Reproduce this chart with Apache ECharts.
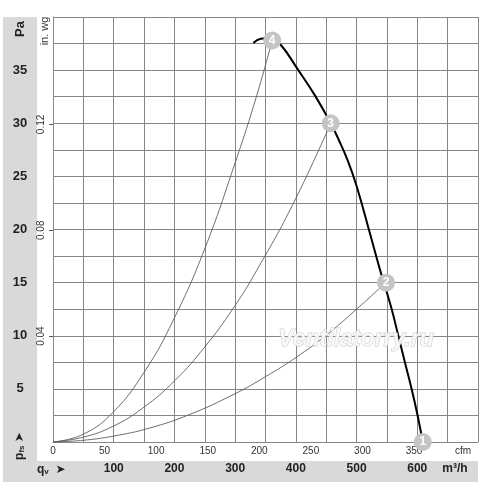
<!DOCTYPE html>
<html>
<head>
<meta charset="utf-8">
<script src="https://cdn.jsdelivr.net/npm/echarts@6/dist/echarts.min.js"></script>
<style>
html,body{margin:0;padding:0;background:#fff;}
#c{width:500px;height:483px;}
</style>
</head>
<body>
<div id="c"></div>
<script>
// Fan curve (flow in m³/h, static pressure in Pa)
const fanQ = [330, 342, 352, 361, 374, 404, 431.6, 457.4, 471, 485, 500.4, 522.2, 538.6, 544.8, 557.9, 568.8, 579.8, 590.8, 600.7, 609];
const fanP = [37.55, 37.95, 38.0, 37.8, 37.46, 35.0, 32.6, 30.0, 28.4, 26.55, 24.03, 19.6, 16.2, 15.05, 12.49, 9.98, 7.46, 4.96, 2.45, 0];
// System curves
const sys4Q = [0, 49.5, 99, 151, 198, 250, 301, 335.5, 361];
const sys4P = [0, 0.72, 2.8, 6.65, 11.45, 18.2, 26.45, 32.6, 37.8];
const sys3Q = [0, 49.5, 99, 148, 201, 250, 297, 335.5, 396, 457.5];
const sys3P = [0, 0.45, 1.48, 3.2, 5.8, 8.95, 12.6, 16.15, 22.47, 30.0];
const sys2Q = [0, 49.5, 99, 159.5, 225.5, 300, 350, 400, 450, 500, 548];
const sys2P = [0, 0.16, 0.55, 1.32, 2.6, 4.55, 6.15, 7.95, 10.05, 12.5, 15.0];
// Operating points
const ptLabels = ['1', '2', '3', '4'];
const ptQ = [609, 548.5, 457.4, 361];
const ptP = [0, 15.0, 30.0, 37.8];
// Axis tick labels
const paTicks = [5, 10, 15, 20, 25, 30, 35];
const m3hTicks = [100, 200, 300, 400, 500, 600];
const cfmTicks = [0, 50, 100, 150, 200, 250, 300, 350];
const inwgTicks = [0.04, 0.08, 0.12];

const PA_MAX = 40, Q_MAX = 700;
const CFM_PER_M3H = 1 / 1.69901;
const PA_PER_INWG = 249.089;

const zip = (a, b) => a.map((v, i) => [v, b[i]]);

const chart = echarts.init(document.getElementById('c'), null, {renderer: 'canvas'});
const gridCol = '#868686';
const thin = {color: '#5e5e5e', width: 0.9};
const option = {
  backgroundColor: '#fff',
  animation: false,
  graphic: [
    {type: 'rect', z: -10, shape: {x: 3, y: 17, width: 34, height: 465}, style: {fill: '#d9d9d9'}},
    {type: 'rect', z: -10, shape: {x: 3, y: 461, width: 475, height: 21}, style: {fill: '#d9d9d9'}},
    {type: 'text', x: 20, y: 29, rotation: Math.PI / 2,
     style: {text: 'Pa', font: 'bold 13px "Liberation Sans", Arial, sans-serif', fill: '#222', align: 'center', verticalAlign: 'middle'}},
    {type: 'text', x: 45, y: 31, rotation: Math.PI / 2,
     style: {text: 'in. wg', font: '11px "Liberation Sans", Arial, sans-serif', fill: '#333', align: 'center', verticalAlign: 'middle'}},
    {type: 'text', x: 20, y: 446, rotation: Math.PI / 2,
     style: {text: '{p|p}{s|fs} {a|➤}', align: 'center', verticalAlign: 'middle',
       rich: {p: {font: 'bold 12px "Liberation Sans", Arial, sans-serif', fill: '#222'},
              s: {font: 'bold 8px "Liberation Sans", Arial, sans-serif', fill: '#222', padding:[4,0,0,0]},
              a: {font: '12px "DejaVu Sans", sans-serif', fill: '#222'}}}},
    {type: 'text', x: 37, y: 470,
     style: {text: '{q|q}{s|v}  {a|➤}', verticalAlign: 'middle',
       rich: {q: {font: 'bold 12px "Liberation Sans", Arial, sans-serif', fill: '#222'},
              s: {font: 'bold 8px "Liberation Sans", Arial, sans-serif', fill: '#222', padding:[4,0,0,0]},
              a: {font: '12px "DejaVu Sans", sans-serif', fill: '#222'}}}},
    {type: 'text', x: 455, y: 469,
     style: {text: 'm³/h', font: 'bold 12px "Liberation Sans", Arial, sans-serif', fill: '#222', align: 'center', verticalAlign: 'middle'}},
    {type: 'text', x: 463, y: 451,
     style: {text: 'cfm', font: '10px "Liberation Sans", Arial, sans-serif', fill: '#333', align: 'center', verticalAlign: 'middle'}},
    {type: 'text', x: 356, y: 340, z: 5,
     style: {text: 'Ventilatorry.ru', font: 'italic bold 23px "Liberation Sans", Arial, sans-serif', fill: 'rgba(248,248,248,0.92)', stroke: '#cbcbcb', lineWidth: 1, align: 'center', verticalAlign: 'middle'}}
  ],
  grid: {left: 53, top: 17, width: 425, height: 425, containLabel: false},
  xAxis: [
    {type: 'value', min: 0, max: Q_MAX, interval: 50,
     axisLine: {show: true, lineStyle: {color: gridCol, width: 1}},
     axisTick: {show: false},
     splitLine: {show: true, lineStyle: {color: gridCol, width: 1}},
     axisLabel: {margin: 21, fontSize: 12, fontWeight: 'bold', color: '#222', fontFamily: 'Liberation Sans',
       formatter: v => m3hTicks.includes(v) ? String(v) : ''}},
    {type: 'value', position: 'bottom', min: 0, max: Q_MAX * CFM_PER_M3H, interval: 50,
     axisLine: {show: false}, axisTick: {show: false}, splitLine: {show: false},
     axisLabel: {margin: 4, fontSize: 10, color: '#333', fontFamily: 'Liberation Sans', showMaxLabel: false,
       formatter: v => cfmTicks.includes(Math.round(v)) ? String(Math.round(v)) : ''}}
  ],
  yAxis: [
    {type: 'value', min: 0, max: PA_MAX, interval: 2.5,
     axisLine: {show: true, lineStyle: {color: gridCol, width: 1}},
     axisTick: {show: false},
     splitLine: {show: true, lineStyle: {color: gridCol, width: 1}},
     axisLabel: {margin: 33, align: 'center', fontSize: 13, fontWeight: 'bold', color: '#222', fontFamily: 'Liberation Sans',
       formatter: v => paTicks.includes(v) ? String(v) : ''}},
    {type: 'value', position: 'left', offset: 0, min: 0, max: PA_MAX / PA_PER_INWG, interval: 0.04,
     axisLine: {show: false}, splitLine: {show: false},
     axisTick: {show: true, length: 4, lineStyle: {color: '#555'}, customValues: inwgTicks},
     axisLabel: {margin: 7, rotate: 90, fontSize: 10, color: '#333', fontFamily: 'Liberation Sans',
       customValues: inwgTicks,
       formatter: v => inwgTicks.some(t => Math.abs(t - v) < 1e-6) ? v.toFixed(2) : ''}}
  ],
  series: [
    {type: 'line', data: zip(sys4Q, sys4P), smooth: 0.45, showSymbol: false, lineStyle: thin, z: 3},
    {type: 'line', data: zip(sys3Q, sys3P), smooth: 0.45, showSymbol: false, lineStyle: thin, z: 3},
    {type: 'line', data: zip(sys2Q, sys2P), smooth: 0.45, showSymbol: false, lineStyle: thin, z: 3},
    {type: 'line', data: zip(fanQ, fanP), smooth: 0.45, showSymbol: false, lineStyle: {color: '#000', width: 2}, z: 4},
    {type: 'scatter', z: 10, symbol: 'circle', symbolSize: 18, clip: false,
     itemStyle: {color: '#c4c4c4', opacity: 1},
     data: ptQ.map((q, i) => ({value: [q, ptP[i]], name: ptLabels[i]})),
     label: {show: true, position: 'inside', formatter: p => '{w|' + p.name + '}',
       rich: {w: {color: '#ffffff', fontWeight: 'bold', fontSize: 12, fontFamily: 'Liberation Sans', textBorderWidth: 0, textShadowBlur: 0}}}}
  ]
};
chart.setOption(option);
</script>
</body>
</html>
